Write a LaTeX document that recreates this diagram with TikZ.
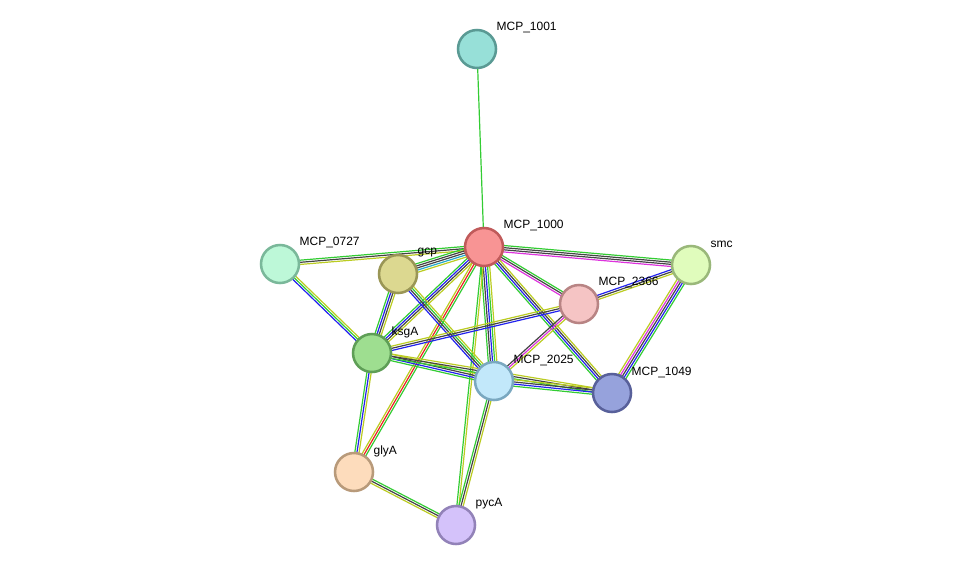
\documentclass[tikz,border=0pt]{standalone}
\usepackage{fontspec}
\setmainfont{Liberation Sans}
\usetikzlibrary{calc}
\definecolor{eg}{HTML}{33CC33}
\definecolor{eb}{HTML}{2222EE}
\definecolor{ek}{HTML}{444444}
\definecolor{ey}{HTML}{BBCC22}
\definecolor{em}{HTML}{DD33DD}
\definecolor{er}{HTML}{EE2222}
\definecolor{ec}{HTML}{22AACC}
\newcommand{\medge}[3]{%
  \foreach \c [count=\i] in {#3} {\global\let\nn\i}%
  \foreach \c [count=\i] in {#3} {%
    \pgfmathsetmacro{\off}{(\i-(\nn+1)/2)*1.6}%
    \draw[draw=\c,line width=0.9pt] ($(#1)!\off pt!90:(#2)$) -- ($(#2)!\off pt!-90:(#1)$);%
  }}
\begin{document}
\begin{tikzpicture}[x=0.75pt,y=-0.75pt,
  prot/.style={circle,minimum size=28.5pt,inner sep=0pt,line width=1.9pt},
  lab/.style={font=\fontsize{9}{10}\selectfont,anchor=west,inner sep=1pt}]
\useasboundingbox (0,0) rectangle (975,571);
\coordinate (n1001) at (477,49);
\coordinate (n1000) at (484,247);
\coordinate (n0727) at (280,264);
\coordinate (gcp) at (398,274);
\coordinate (smc) at (691,265);
\coordinate (n2366) at (579,304);
\coordinate (ksgA) at (372,353);
\coordinate (n2025) at (494,381);
\coordinate (n1049) at (612,393);
\coordinate (glyA) at (354,472);
\coordinate (pycA) at (456,525);
\medge{n1001}{n1000}{eg}
\medge{n1000}{n0727}{eg,ek,ey}
\medge{n1000}{gcp}{eg,ek,ek,ec,ey}
\medge{n1000}{smc}{em,ek,ek,eg}
\medge{n1000}{n2366}{em,ek,eg}
\medge{n1000}{ksgA}{eg,eb,ek,ey}
\medge{n1000}{n2025}{eg,ek,eb,eg,ey}
\medge{n1000}{n1049}{eg,eb,ek,ey}
\medge{n1000}{glyA}{ey,er,eg}
\medge{n1000}{pycA}{eg,ey}
\medge{n0727}{ksgA}{eb,eg,ey}
\medge{gcp}{ksgA}{eg,eb,ek,ey}
\medge{gcp}{n2025}{eb,ek,eg,ey}
\medge{ksgA}{n2366}{eb,ek,ey}
\medge{ksgA}{n2025}{eg,eb,ek,ey}
\medge{ksgA}{n1049}{eg,ek,ey}
\medge{ksgA}{glyA}{eg,eb,ey}
\medge{n2366}{smc}{ey,ek,eb}
\medge{n2366}{n2025}{ek,em,ey}
\medge{smc}{n1049}{ey,em,ek,eb,eg}
\medge{n2025}{n1049}{eg,eb,ek,ey}
\medge{n2025}{pycA}{eg,ek,ey}
\medge{glyA}{pycA}{ey,ek,eg}
\foreach \n/\f/\d/\t in {
  n1001/97E0D8/5A9A94/MCP\_1001, n1000/F89494/C05A5A/MCP\_1000,
  n0727/BDF8D8/7AB89A/MCP\_0727, gcp/DCD890/9A9656/gcp,
  smc/E0FCBC/9AB87A/smc, n2366/F5C4C4/B88484/MCP\_2366,
  ksgA/9EDE90/5E9E56/ksgA, n2025/C2E8FA/7AA8C0/MCP\_2025,
  n1049/96A2DC/58609A/MCP\_1049, glyA/FDDCBC/B89A7A/glyA,
  pycA/D4C2FA/9282B8/pycA} {
  \definecolor{fc}{HTML}{\f}\definecolor{dc}{HTML}{\d}
  \node[prot,fill=fc,draw=dc] (\n-c) at (\n) {};
  \node[lab] (\n-l) at ($(\n)+(18,-21)$) {\t};
}
\end{tikzpicture}
\end{document}
